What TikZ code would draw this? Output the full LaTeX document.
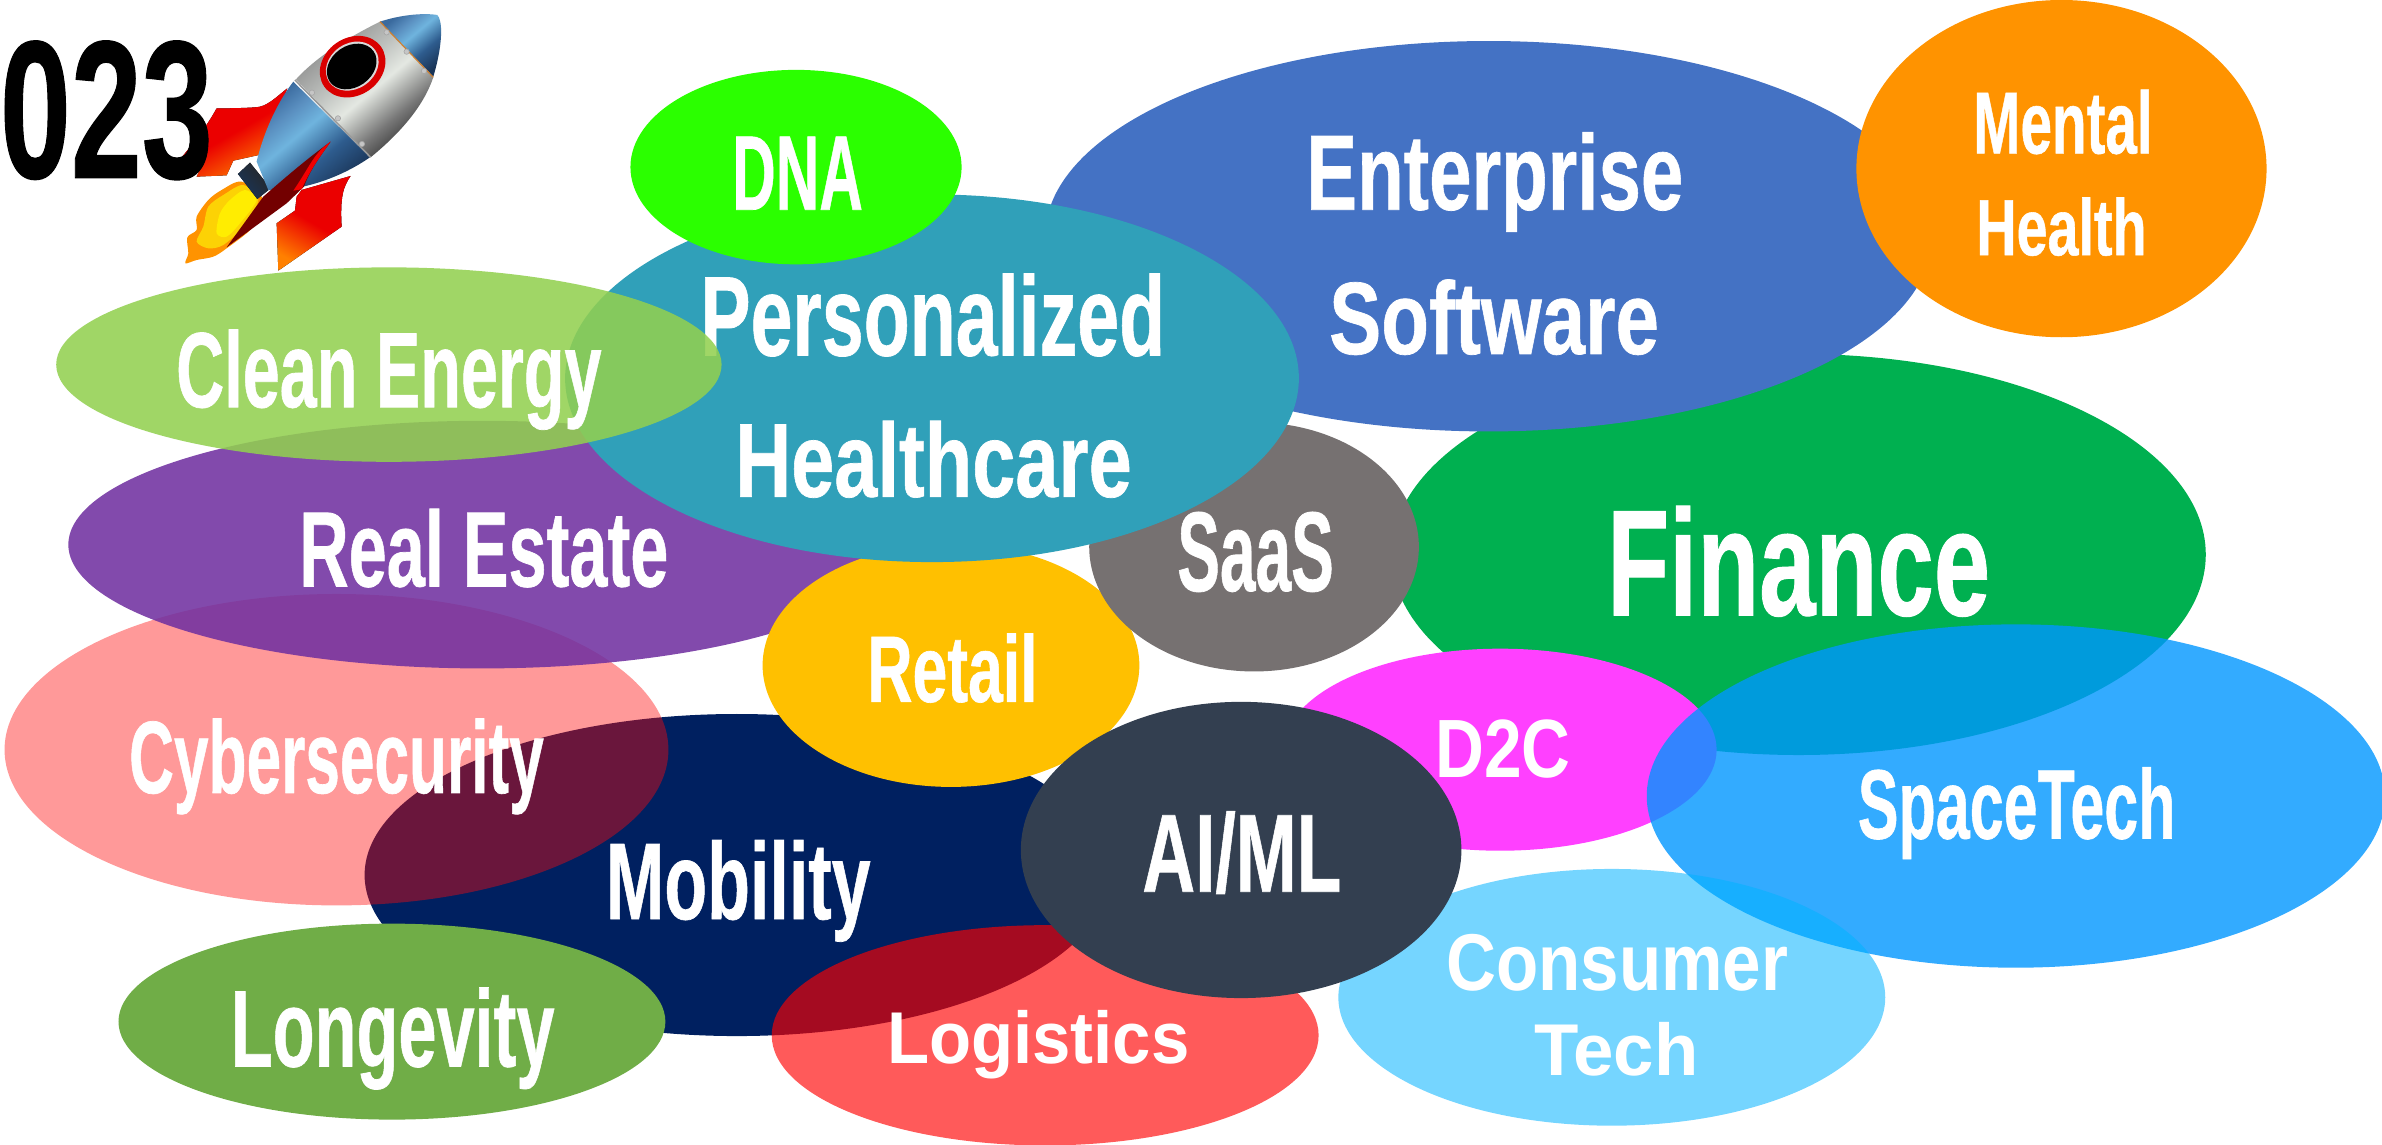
\documentclass[tikz,border=0pt]{standalone}
\usepackage{graphicx}
\usepackage{fontspec}
\setmainfont{Liberation Sans}[BoldFeatures={FakeBold=0.7}]
\usetikzlibrary{shapes.geometric}
\definecolor{cEnt}{HTML}{4472C4}
\definecolor{cFin}{HTML}{00B050}
\definecolor{cMen}{HTML}{FF9300}
\definecolor{cPur}{HTML}{7030A0}
\definecolor{cTeal}{HTML}{30A0B9}
\definecolor{cClean}{HTML}{92D050}
\definecolor{cDna}{HTML}{2BFF00}
\definecolor{cSaas}{HTML}{767171}
\definecolor{cRet}{HTML}{FFC000}
\definecolor{cCyb}{HTML}{FF0A0A}
\definecolor{cNavy}{HTML}{002060}
\definecolor{cLog}{HTML}{FF0000}
\definecolor{cLon}{HTML}{70AD47}
\definecolor{cAi}{HTML}{333F50}
\definecolor{cD2c}{HTML}{FF40FF}
\definecolor{cSpace}{HTML}{0096FF}
\definecolor{cCons}{HTML}{00B3FF}
\definecolor{gA}{HTML}{333333}\definecolor{gB}{HTML}{777777}\definecolor{gC}{HTML}{E4E8E2}\definecolor{gD}{HTML}{BFC2BF}\definecolor{gE}{HTML}{8A8A8A}
\definecolor{bA}{HTML}{1A3558}\definecolor{bB}{HTML}{2E5C8E}\definecolor{bC}{HTML}{6FB4DE}\definecolor{bD}{HTML}{5A8FC0}\definecolor{bE}{HTML}{3A6A9E}
\pgfdeclareverticalshading{bodygray}{100bp}{color(0bp)=(gA);color(25bp)=(gA);color(35bp)=(gB);color(48bp)=(gC);color(58bp)=(gD);color(75bp)=(gE);color(100bp)=(gE)}
\pgfdeclareverticalshading{bodyblue}{100bp}{color(0bp)=(bA);color(25bp)=(bA);color(40bp)=(bB);color(55bp)=(bC);color(65bp)=(bD);color(75bp)=(bE);color(100bp)=(bE)}
\tikzset{
  blob/.style={ellipse,inner sep=0pt,outer sep=0pt,draw=none},
  lbl/.style={anchor=base,inner sep=0pt,outer sep=0pt,text=white},
  rivet/.style={fill=gray!45,draw=gray!70,line width=0.6pt}
}
\newcommand\blobn[7]{%
  \pgfmathsetmacro\bx{(#2+#3)/2}\pgfmathsetmacro\by{(#4+#5)/2}%
  \node[blob,minimum width={(#3-#2)*1.5191pt},minimum height={(#5-#4)*1.5191pt},fill=#6,fill opacity=#7] (#1) at (\bx,\by) {};}
\newcommand\lab[6]{%
  \pgfmathsetlengthmacro\labw{(#3-#2)*1.5191pt}\pgfmathsetlengthmacro\labh{(#5-#4)*1.5191pt}%
  \pgfmathsetmacro\labx{(#2+#3)/2}%
  \node[lbl] (#1) at (\labx,#5) {\resizebox{\labw}{\labh}{\bfseries #6}};}
\newcommand\labp[6]{%
  \pgfmathsetlengthmacro\labw{(#3-#2)*1.5191pt}\pgfmathsetlengthmacro\labh{(#5-#4)*1.5191pt}%
  \pgfmathsetmacro\labx{(#2+#3)/2}%
  \node[lbl] (#1) at (\labx,#5) {\resizebox{\labw}{\labh}{\fontspec{Liberation Sans Bold}#6}};}
\begin{document}
\begin{tikzpicture}[x=1.5191pt,y=-1.5191pt]
\useasboundingbox (0,0) rectangle (1568,753.7);
\fill[white] (0,0) rectangle (1568,753.7);
% rocket
\begin{scope}[x=0.3333pt,y=-0.3333pt,line join=round]
 \fill[top color=red!92!black,bottom color=orange,middle color=red!92!black,shading angle=30] (862,265) .. controls (830,290) and (800,322) .. (765,322) .. controls (720,325) and (680,325) .. (650,325) .. controls (620,380) and (580,430) .. (540,478) -- (618,470) -- (590,530) -- (680,526) -- (700,482) -- (790,462) -- cycle;
 \fill[top color=red!92!black,bottom color=orange,middle color=red!92!black,shading angle=-30] (1052,528) .. controls (1030,560) and (1020,590) .. (1025,680) -- (835,812) -- (830,670) -- (885,632) -- (890,590) -- (905,570) -- cycle;
 % flame
 \fill[orange!85!yellow] plot[smooth cycle] coordinates {(725,545) (790,600) (760,680) (680,745) (640,770) (590,780) (556,790) (565,760) (562,712) (590,690) (590,650) (625,600) (665,570)};
 \fill[yellow!70!orange] plot[smooth cycle] coordinates {(730,555) (775,600) (730,680) (670,735) (625,745) (590,725) (610,680) (625,620) (670,585)};
 \fill[yellow!95!orange] plot[smooth cycle] coordinates {(735,570) (770,600) (720,670) (680,710) (650,700) (660,640) (690,600)};
 % neck
 \fill[top color=black!85,bottom color=bA,shading angle=-50] (714,522) -- (750,488) -- (812,565) -- (772,597) -- cycle;
 % blue lower body
 \shade[shading=bodyblue,shading angle=40] (880,245) .. controls (830,310) and (790,400) .. (770,485) -- (805,570) .. controls (860,575) and (990,555) .. (1110,472) -- cycle;
 % grey middle
 \shade[shading=bodygray,shading angle=40] (1140,65) .. controls (1040,115) and (950,170) .. (888,238) -- (1112,472) .. controls (1200,400) and (1270,320) .. (1300,232) -- cycle;
 % nose
 \shade[shading=bodyblue,shading angle=40] (1140,65) .. controls (1200,45) and (1270,38) .. (1312,45) .. controls (1328,60) and (1330,130) .. (1300,230) -- cycle;
 \draw[orange!60!gray,line width=1.2pt] (1140,65) -- (1300,232);
 \draw[gray!80,line width=1.6pt] (885,240) -- (1112,472);
 % window
 \fill[red!85!black,rotate around={35:(1058,200)}] (1058,200) ellipse (104 and 86);
 \fill[white!70!gray,rotate around={35:(1058,200)}] (1058,198) ellipse (84 and 68);
 \fill[black,rotate around={35:(1058,200)}] (1056,198) ellipse (80 and 62);
 % rivets
 \foreach \rx/\ry in {1160/97,1220/155,1272/213,936/278,1014/355,1086/432}{\fill[rivet] (\rx,\ry) circle (8);}
 % inner fin
 \fill[red!45!black] (992,425) .. controls (930,470) and (870,520) .. (790,590) -- (680,742) -- (860,610) -- (912,560) .. controls (930,510) and (960,470) .. cycle;
 \fill[red!95!black] (992,425) .. controls (940,460) and (930,500) .. (880,572) -- (905,568) .. controls (930,510) and (960,470) .. cycle;
\end{scope}
\lab{year}{0}{140}{27}{117}{\color{black}023}
% ellipses, bottom to top
\blobn{mobility}{240}{730}{470}{682}{cNavy}{1}
\blobn{cyber}{3}{440}{391}{596}{cCyb}{0.416}
\blobn{realestate}{45}{590}{277}{440}{cPur}{0.87}
\blobn{retail}{502}{750}{358}{518}{cRet}{1}
\blobn{finance}{916}{1452}{233}{497}{cFin}{1}
\blobn{enterprise}{688}{1272}{27}{284}{cEnt}{1}
\blobn{mental}{1222}{1492}{0}{222}{cMen}{1}
\blobn{saas}{717}{934}{278}{442}{cSaas}{1}
\blobn{personal}{372}{855}{128}{370}{cTeal}{1}
\blobn{dna}{415}{633}{46}{174}{cDna}{1}
\lab{tpersonal}{461}{767}{180}{234}{Personalized}
\blobn{clean}{37}{475}{176}{304}{cClean}{0.87}
\blobn{longevity}{78}{438}{608}{737}{cLon}{1}
\blobn{logistics}{508}{868}{609}{754}{cLog}{0.647}
\blobn{dtoc}{845}{1130}{427}{560}{cD2c}{1}
\blobn{space}{1084}{1570}{411}{637}{cSpace}{0.8}
\blobn{consumer}{881}{1241}{572}{741}{cCons}{0.54}
\blobn{aiml}{672}{962}{462}{657}{cAi}{1}
% labels
\lab{tdna}{482}{568}{90}{138}{DNA}
\lab{thealth}{484}{745}{277}{327}{Healthcare}
\lab{tent}{860}{1108}{87}{138}{Enterprise}
\lab{tsoft}{875}{1092}{184}{233}{Software}
\lab{tmen}{1299}{1417}{59}{101}{Mental}
\lab{thea}{1301}{1413}{130}{168}{Health}
\lab{tfin}{1058}{1310}{333}{405}{Finance}
\lab{tclean}{116}{396}{217}{268}{Clean Energy}
\lab{treal}{197}{440}{335}{386}{Real Estate}
\lab{tsaas}{775}{878}{337}{389}{SaaS}
\lab{tret}{571}{683}{417}{462}{Retail}
\lab{tcyb}{85}{358}{473}{522}{Cybersecurity}
\lab{tmob}{399}{573}{553}{605}{Mobility}
\lab{tai}{752}{883}{534}{587}{AI/ML}
\labp{td2c}{945}{1034}{474}{512}{D2C}
\lab{tspace}{1223}{1432}{505}{552}{SpaceTech}
\labp{tcons}{952}{1177}{615}{652}{Consumer}
\labp{ttech}{1010}{1118}{673}{708}{Tech}
\lab{tlon}{152}{365}{650}{702}{Longevity}
\labp{tlog}{584}{783}{665}{700}{Logistics}
\end{tikzpicture}
\end{document}
